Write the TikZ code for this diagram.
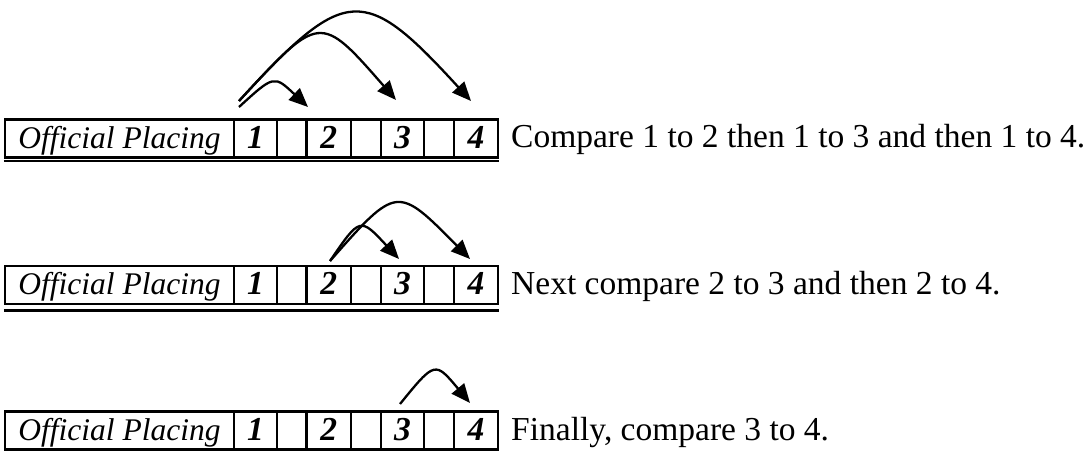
\documentclass[tikz,border=0pt]{standalone}
\usepackage{fontspec}
\setmainfont{Liberation Serif}
\usetikzlibrary{arrows.meta}
\begin{document}
\begin{tikzpicture}[x=1pt,y=-1pt,
  cell/.style={draw, line width=2.5pt, inner sep=0pt, minimum height=38pt,
    text height=20pt, text depth=0pt, font=\fontsize{33.5}{40}\selectfont},
  lab/.style={cell, minimum width=229pt, font=\fontsize{31.5}{40}\selectfont\itshape},
  num/.style={cell, font=\fontsize{33.5}{40}\selectfont\bfseries\itshape},
  note/.style={anchor=base west, inner sep=0pt, font=\fontsize{33.5}{40}\selectfont},
  cmp/.style={line width=2.3pt, -{Triangle[length=19pt,width=16pt]}},
  rulebar/.style={line width=2.5pt}]
\useasboundingbox (0,0) rectangle (1090,454);
\fill[white] (0,0) rectangle (1090,454);
\foreach \r/\y in {1/138.5,2/285,3/430.5}{
  \node[lab] (r\r-lab) at (119.5,\y) {Official Placing};
  \node[num, minimum width=43pt] (r\r-c1) at (255.5,\y) {1};
  \node[cell, minimum width=29.5pt] (r\r-e1) at (291.75,\y) {};
  \node[num, minimum width=44.5pt] (r\r-c2) at (328.75,\y) {2};
  \node[cell, minimum width=30pt] (r\r-e2) at (366,\y) {};
  \node[num, minimum width=43pt] (r\r-c3) at (402.5,\y) {3};
  \node[cell, minimum width=30pt] (r\r-e3) at (439,\y) {};
  \node[num, minimum width=44pt] (r\r-c4) at (476,\y) {4};
}
% extra bottom rules
\draw[rulebar] ([yshift=-2.5pt]r1-lab.south west) -- ([yshift=-2.5pt]r1-c4.south east);
\draw[rulebar] ([yshift=-5.5pt]r2-lab.south west) -- ([yshift=-5.5pt]r2-c4.south east);
% notes
\node[note] (n1) at (511,148) {Compare 1 to 2 then 1 to 3 and then 1 to 4.};
\node[note] (n2) at (511,295) {Next compare 2 to 3 and then 2 to 4.};
\node[note] (n3) at (511,440.5) {Finally, compare 3 to 4.};
% arrow end points
\coordinate (s1a) at (239,101);
\coordinate (s1b) at (239,107);
\coordinate (t12) at (308,107);
\coordinate (t13) at (396,100);
\coordinate (t14) at (471,101);
\coordinate (s2) at (330,261);
\coordinate (t23) at (399,259);
\coordinate (t24) at (470,259);
\coordinate (s3) at (400,404);
\coordinate (t34) at (470,403);
% arrows
\draw[cmp] (s1a) .. controls (346,-16) and (364,-16) .. (t14);
\draw[cmp] (s1a) .. controls (320,13) .. (t13);
\draw[cmp] (s1b) .. controls (274,75) .. (t12);
\draw[cmp] (s2) .. controls (397,185) .. (t24);
\draw[cmp] (s2) .. controls (360,217) .. (t23);
\draw[cmp] (s3) .. controls (435,361) .. (t34);
\end{tikzpicture}
\end{document}
